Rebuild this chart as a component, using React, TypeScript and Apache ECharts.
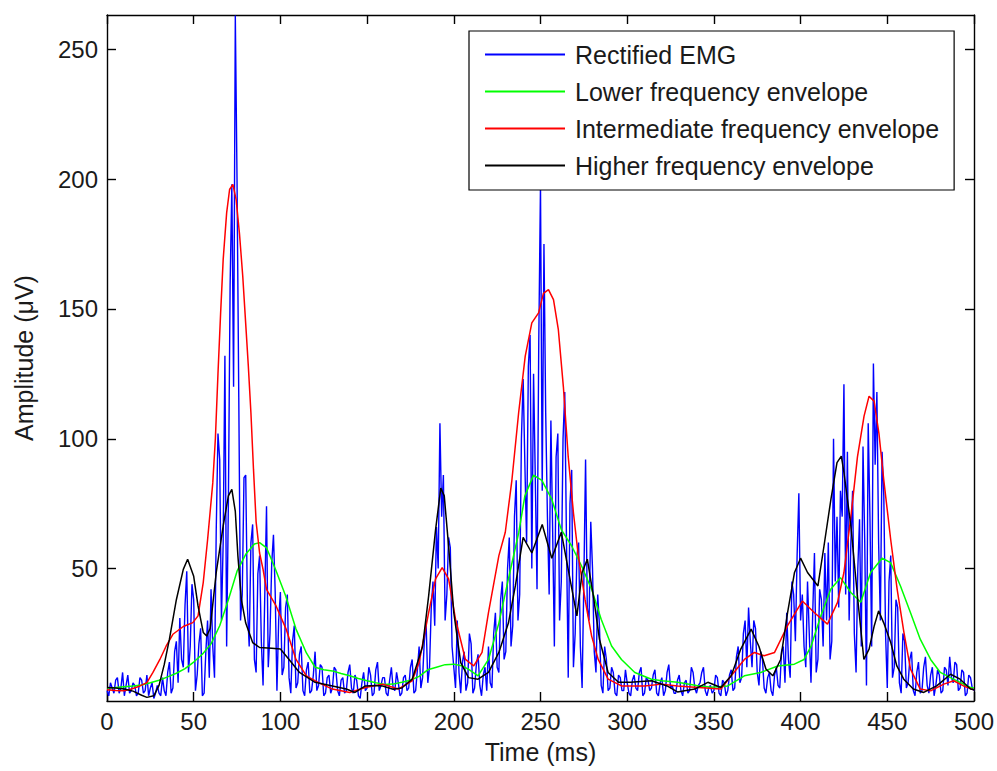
import React, { useEffect, useRef } from 'react';
import * as echarts from 'echarts';

// EMG samples, one every 1 ms from 0 to 500 ms (µV), 20 per row
const sampleStep = 1;
const rectifiedEmg = [
  3, 1, 6, 4, 2, 7, 8, 2, 4, 10, 1, 5, 9, 2, 3, 6, 5, 1, 2, 8,
  7, 2, 3, 9, 1, 4, 6, 0, 2, 5, 2, 1, 8, 3, 1, 10, 14, 2, 4, 18,
  22, 6, 31, 15, 12, 36, 49, 10, 20, 44, 38, 3, 9, 21, 27, 1, 2, 18, 30, 8,
  42, 20, 8, 65, 102, 92, 30, 60, 132, 20, 75, 159, 198, 120, 263, 199, 116, 30, 40, 85,
  86, 35, 20, 60, 67, 15, 10, 48, 55, 22, 5, 40, 74, 12, 25, 52, 63, 41, 3, 30,
  41, 9, 12, 35, 40, 8, 2, 22, 28, 4, 6, 17, 20, 3, 1, 11, 14, 2, 3, 9,
  18, 3, 5, 13, 12, 1, 2, 8, 9, 2, 4, 12, 11, 3, 1, 7, 8, 2, 3, 10,
  13, 4, 2, 9, 7, 1, 0, 6, 10, 3, 4, 12, 9, 1, 2, 11, 14, 3, 5, 8,
  8, 2, 1, 7, 12, 4, 3, 10, 6, 1, 2, 8, 9, 3, 4, 12, 15, 2, 3, 11,
  20, 4, 8, 22, 30, 6, 12, 35, 45, 28, 66, 50, 106, 70, 86, 30, 40, 62, 58, 20,
  12, 4, 30, 10, 2, 14, 18, 3, 6, 25, 21, 2, 4, 13, 17, 5, 1, 9, 12, 3,
  20, 6, 4, 25, 33, 12, 10, 38, 45, 15, 18, 50, 62, 20, 28, 70, 84, 30, 40, 100,
  123, 90, 60, 128, 140, 50, 125, 85, 42, 137, 198, 80, 175, 110, 70, 40, 107, 65, 20, 93,
  102, 30, 45, 100, 118, 60, 8, 75, 88, 12, 25, 55, 60, 20, 4, 45, 92, 35, 30, 68,
  50, 18, 10, 40, 28, 5, 2, 20, 15, 3, 4, 12, 10, 2, 1, 9, 8, 3, 3, 11,
  6, 2, 1, 7, 9, 4, 3, 10, 12, 1, 2, 8, 7, 3, 4, 9, 11, 2, 1, 6,
  8, 1, 3, 10, 13, 4, 5, 2, 2, 7, 9, 3, 1, 6, 7, 2, 3, 12, 10, 4,
  2, 5, 6, 10, 12, 3, 1, 4, 5, 2, 3, 9, 8, 2, 1, 7, 6, 1, 3, 9,
  11, 3, 4, 16, 20, 6, 8, 25, 30, 12, 35, 22, 12, 30, 27, 10, 5, 18, 15, 4,
  2, 8, 10, 3, 1, 9, 12, 5, 4, 18, 20, 6, 33, 15, 8, 45, 40, 22, 55, 79,
  30, 40, 20, 12, 45, 25, 6, 33, 56, 10, 15, 42, 38, 20, 56, 30, 60, 15, 22, 100,
  45, 70, 35, 80, 70, 121, 40, 95, 30, 60, 80, 25, 10, 50, 69, 20, 97, 60, 5, 106,
  70, 20, 129, 90, 118, 60, 30, 95, 78, 25, 4, 45, 55, 8, 12, 38, 35, 6, 2, 25,
  22, 4, 6, 15, 18, 3, 1, 10, 14, 2, 3, 12, 16, 5, 2, 9, 12, 1, 5, 11,
  9, 2, 3, 12, 11, 5, 16, 8, 6, 14, 13, 3, 4, 11, 10, 1, 2, 9, 8, 4,
  3,
];

// envelopes as [time ms, amplitude µV]
const lowerEnvelope = [
  [0, 4], [5, 4.2], [10, 4.5], [15, 4.8], [20, 5.2], [25, 6], [30, 7], [35, 8.3],
  [40, 9.7], [45, 11.5], [50, 14], [55, 17], [60, 21], [65, 28], [70, 38], [75, 49],
  [80, 55.5], [85, 59.5], [88, 60], [92, 58], [97, 50], [103, 39.5], [109, 26.7],
  [115, 17.5], [120, 12], [125, 11], [130, 10.6], [135, 9.6], [140, 8.7], [145, 7.7],
  [150, 6.8], [155, 6], [160, 5.4], [165, 5.5], [170, 6.2], [175, 7], [180, 8.5],
  [185, 11], [190, 12], [195, 13], [200, 13.2], [205, 12.5], [209, 11], [214, 8.7],
  [220, 15], [226, 29], [231.5, 46], [237.5, 64], [241, 78], [246, 86], [250.8, 84],
  [256.5, 76.7], [262, 65], [268, 58.7], [273.7, 51], [279.5, 42], [285, 30.5],
  [291, 20.2], [296.7, 15], [304.4, 10], [314, 7.4], [320, 6.8], [329, 6.2], [340, 5],
  [348.5, 4.3], [358, 4.8], [367.6, 8.7], [377, 10], [386.8, 12.5], [396.4, 13.2],
  [402, 15], [406, 20], [411.7, 31.8], [417.4, 42], [423, 46.5], [429, 40.8],
  [434.7, 37], [440.4, 48.5], [447, 54], [451.9, 52.3], [457.6, 43.3], [463.4, 33],
  [469, 22.8], [475, 15], [480.6, 10], [486.4, 8], [492, 6.2], [498, 4.2], [500, 4],
];

const intermediateEnvelope = [
  [0, 3.3], [5, 3], [10, 2.9], [15, 3.8], [19, 4.8], [23, 6.1], [26.5, 10], [30.5, 15],
  [34, 20], [38, 24.7], [44, 27.7], [49.5, 29.2], [52.5, 31.8], [55.5, 44.6], [58, 61],
  [61, 83], [62.5, 100], [64, 125], [65.5, 148], [67, 169], [69, 187], [70.7, 196],
  [72.6, 198], [74.5, 192], [76.4, 179], [78.3, 162.5], [80.3, 141], [81.5, 128],
  [83, 110], [84.5, 88], [86, 68], [88, 56], [90, 49.7], [92, 42], [97.5, 35.6],
  [103.3, 26.7], [109, 15], [115, 8.7], [122, 6.1], [130, 3.6], [140, 2.3], [149, 4.2],
  [159, 5.5], [168, 3.6], [176, 6.8], [180, 13.8], [185.5, 33], [189.5, 46],
  [193.3, 50.4], [197, 46], [201, 30.5], [206.7, 15], [211.5, 12.5], [216.3, 17.7],
  [220, 33], [226, 55], [229.7, 64], [233.5, 84], [237.4, 110], [241.2, 131.8],
  [245, 144.6], [248.9, 148.5], [251.7, 156], [254.6, 157.4], [257.5, 153.6],
  [260.3, 142], [263.2, 120], [266, 93], [269, 71.5], [271.8, 55], [275.7, 38],
  [279.5, 24], [283.3, 15], [289, 7.4], [296.7, 4.8], [310, 4.8], [320, 5.5], [329, 4.8],
  [341, 4.2], [354, 3.6], [360, 8.7], [367.6, 15], [373.4, 17.7], [379, 16.4],
  [385, 17.7], [392.5, 28], [401, 37.5], [408, 33], [415.5, 28.6], [421.3, 37],
  [425, 48.5], [429, 70], [432.8, 93], [436.6, 108.7], [439.5, 116.4], [442.4, 114.5],
  [445.2, 102], [448, 84], [452, 61], [455.7, 42], [459.6, 25.4], [463.4, 11.3],
  [469, 3.6], [475, 2.9], [482.6, 5.5], [488.3, 6.8], [494, 4.8], [500, 3.3],
];

const higherEnvelope = [
  [0, 4.2], [5, 4], [10, 3.6], [15, 2.8], [20, 1.2], [23, 0.4], [27, 1], [30, 5],
  [33, 13], [36, 22.8], [40, 38], [44, 49.7], [46.5, 53.6], [50, 47], [52.5, 35.6],
  [55.5, 25.4], [57.5, 24], [59.5, 27], [63, 48.5], [67, 66.4], [70, 78], [72, 80.5],
  [74, 72], [75.5, 54.8], [77.5, 38], [80, 29], [84, 21.5], [88, 19.6], [95, 19.3],
  [100, 19], [105, 15], [111, 10], [120, 6.2], [130, 4.8], [138, 3.6], [143, 2.3],
  [149, 4.8], [155, 5], [159, 4.8], [165, 3.5], [170, 4], [176, 7.4], [182, 20],
  [185.5, 39.5], [189.5, 65], [192.5, 81], [194.5, 78], [197, 58.7], [200, 33],
  [204, 13.8], [208.5, 8], [214, 7.4], [220, 10], [226, 17.7], [231.5, 29],
  [235.5, 43.3], [240, 62], [245, 56], [251, 67], [256.5, 54], [262, 64], [267, 46],
  [271, 31.8], [274, 48.5], [277, 53.6], [280.5, 39.5], [284, 22.8], [289, 10],
  [295, 6.2], [302, 6.2], [314, 6.8], [323, 4.8], [329, 2.5], [339, 3.6], [346.5, 6.2],
  [354, 4.2], [360, 8.7], [365.5, 19], [371.5, 26.7], [376, 20], [380, 11.3], [384, 8.7],
  [388.5, 15], [392.5, 33], [396.5, 48.5], [400, 54], [404, 48.5], [410, 43.3],
  [413.5, 58.7], [417.5, 76.7], [421, 90.8], [423.5, 93.3], [425, 87], [429, 66.4],
  [433, 38], [436.5, 15], [439.5, 19], [442.5, 28], [445, 33.7], [448, 29], [452, 21.5],
  [455.5, 12.5], [459.5, 7.4], [465, 3.6], [471, 2.3], [478.5, 4.8], [486.5, 9.3],
  [492, 7.4], [498, 3.6], [500, 3.3],
];

const seriesNames = [
  'Rectified EMG',
  'Lower frequency envelope',
  'Intermediate frequency envelope',
  'Higher frequency envelope',
];
const seriesColors = ['#0000ff', '#00ff00', '#ff0000', '#000000'];
const seriesWidths = [1.4, 1.5, 1.5, 1.5];
const yTicks = [50, 100, 150, 200, 250];

const font = '"Liberation Sans", Arial, Helvetica, sans-serif';
const textColor = '#1a1a1a';

const frameAxis = {
  axisLine: { show: true, onZero: false, lineStyle: { color: '#000', width: 1.4 } },
  axisTick: { show: true, inside: true, length: 9, lineStyle: { color: '#000', width: 1.4 } },
  splitLine: { show: false },
};

const App = () => {
  const chartRef = useRef<HTMLDivElement>(null);

  useEffect(() => {
    if (!chartRef.current) return;
    const chart = echarts.init(chartRef.current, null, { renderer: 'svg' });

    const emgData = rectifiedEmg.map((v, i) => [i * sampleStep, v]);
    const lineData = [emgData, lowerEnvelope, intermediateEnvelope, higherEnvelope];

    const option = {
      animation: false,
      backgroundColor: '#fff',
      grid: { left: 107, right: 20, top: 15, bottom: 70, containLabel: false },
      legend: {
        orient: 'vertical',
        left: 469,
        top: 31,
        padding: [11, 15, 12, 16],
        itemGap: 12,
        itemWidth: 80,
        itemHeight: 2,
        icon: 'rect',
        selectedMode: false,
        backgroundColor: '#fff',
        borderColor: '#000',
        borderWidth: 1.2,
        borderRadius: 0,
        textStyle: { fontFamily: font, fontSize: 25, lineHeight: 25, color: textColor, padding: [0, 0, 0, 5] },
        data: seriesNames,
        z: 10,
      },
      xAxis: [
        {
          type: 'value',
          position: 'bottom',
          min: 0,
          max: 500,
          interval: 50,
          name: 'Time (ms)',
          nameLocation: 'middle',
          nameGap: 38,
          nameTextStyle: { fontFamily: font, fontSize: 25, color: textColor },
          axisLabel: { margin: 8, fontFamily: font, fontSize: 24, color: textColor },
          ...frameAxis,
        },
        {
          type: 'value',
          position: 'top',
          min: 0,
          max: 500,
          interval: 50,
          axisLabel: { show: false },
          ...frameAxis,
        },
      ],
      yAxis: [
        {
          type: 'value',
          position: 'left',
          min: -1,
          max: 263.2,
          name: 'Amplitude (μV)',
          nameLocation: 'middle',
          nameGap: 71,
          nameTextStyle: { fontFamily: font, fontSize: 25, color: textColor },
          axisLabel: { margin: 9, fontFamily: font, fontSize: 24, color: textColor, customValues: yTicks },
          ...frameAxis,
          axisTick: { ...frameAxis.axisTick, customValues: yTicks },
        },
        {
          type: 'value',
          position: 'right',
          min: -1,
          max: 263.2,
          axisLabel: { show: false, customValues: yTicks },
          ...frameAxis,
          axisTick: { ...frameAxis.axisTick, customValues: yTicks },
        },
      ],
      series: seriesNames.map((name, k) => ({
        name,
        type: 'line',
        xAxisIndex: 0,
        yAxisIndex: 0,
        data: lineData[k],
        symbol: 'none',
        showSymbol: false,
        color: seriesColors[k],
        lineStyle: { color: seriesColors[k], width: seriesWidths[k] },
        z: 2 + k,
      })),
    };

    chart.setOption(option as any);

    return () => {
      chart.dispose();
    };
  }, []);

  return (
    <div
      ref={chartRef}
      style={{ position: 'absolute', left: 0, top: 0, width: '997px', height: '771px' }}
    />
  );
};

export default App;
